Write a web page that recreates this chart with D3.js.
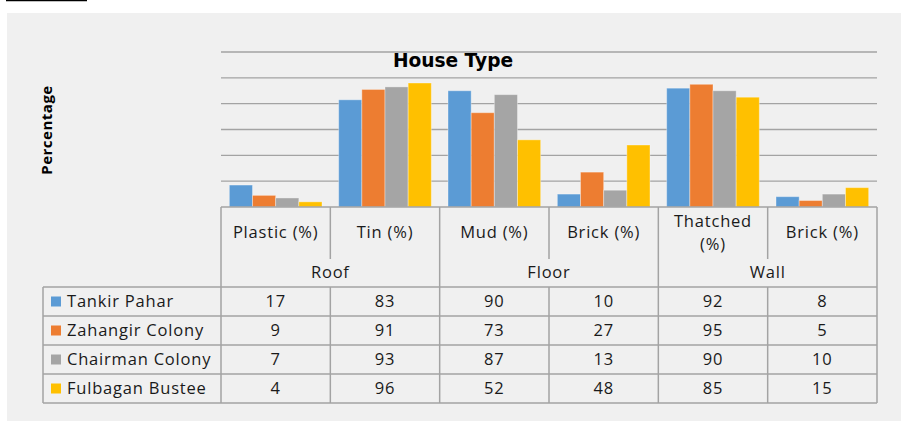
<!DOCTYPE html>
<html lang="en">
<head>
<meta charset="UTF-8">
<title>House Type</title>
<script src="https://d3js.org/d3.v7.min.js"></script>
<style>
    body { margin: 0; background: #fff; }
    svg text { font-family: "Open Sans", sans-serif; fill: #1a1a1a; }
    .chart-title { font-family: "DejaVu Sans", Verdana, sans-serif; font-weight: bold; font-size: 18.6px; text-anchor: middle; fill: #000; }
    .axis-title { font-weight: bold; font-size: 15px; letter-spacing: 0.5px; text-anchor: middle; fill: #000; }
    .cell { font-size: 16.5px; letter-spacing: 0.8px; text-anchor: middle; }
    .legend-label { font-size: 16.5px; letter-spacing: 0.8px; }
</style>
</head>
<body>
<svg width="901" height="421"></svg>
<script>
// data
const categories = ["Plastic (%)", "Tin (%)", "Mud (%)", "Brick (%)", "Thatched (%)", "Brick (%) "];
const groups = [
    { name: "Roof", span: 2 },
    { name: "Floor", span: 2 },
    { name: "Wall", span: 2 }
];
const seriesNames = ["Tankir Pahar", "Zahangir Colony", "Chairman Colony", "Fulbagan Bustee"];
const tankirPahar = [17, 83, 90, 10, 92, 8];
const zahangirColony = [9, 91, 73, 27, 95, 5];
const chairmanColony = [7, 93, 87, 13, 90, 10];
const fulbaganBustee = [4, 96, 52, 48, 85, 15];
const yTicks = [0, 20, 40, 60, 80, 100, 120];

const seriesValues = [tankirPahar, zahangirColony, chairmanColony, fulbaganBustee];
const colors = ["#5b9bd5", "#ed7d31", "#a5a5a5", "#ffc000"];
const lineColor = "#a3a3a3";

const svg = d3.select("svg");

// top-left stub and grey panel
svg.append("line").attr("x1", 6).attr("x2", 87).attr("y1", 0.5).attr("y2", 0.5)
    .attr("stroke", "#000").attr("stroke-width", 1.5);
svg.append("rect").attr("x", 7).attr("y", 13).attr("width", 894).attr("height", 408).attr("fill", "#f0f0f0");

const plotLeft = 221, plotRight = 877, plotTop = 52, plotBottom = 207;
const legendLeft = 43;
const rowTop = 287, rowH = 29;

const x = d3.scaleBand().domain(d3.range(categories.length)).range([plotLeft, plotRight]);
const xs = d3.scaleBand().domain(d3.range(seriesNames.length)).range([0, x.bandwidth()])
    .paddingOuter(0.36).paddingInner(0);
const y = d3.scaleLinear().domain([0, 120]).range([plotBottom, plotTop]);

// gridlines
svg.append("g").selectAll("line").data(yTicks.slice(1)).join("line")
    .attr("x1", plotLeft).attr("x2", plotRight)
    .attr("y1", d => y(d)).attr("y2", d => y(d))
    .attr("stroke", lineColor).attr("stroke-width", 1.3);

svg.append("text").attr("class", "chart-title")
    .attr("x", 453).attr("y", 67).text("House Type");

svg.append("text").attr("class", "axis-title")
    .attr("transform", "translate(52,130) rotate(-90)").text("Percentage");

// bars
seriesValues.forEach((vals, s) => {
    svg.append("g").selectAll("rect").data(vals).join("rect")
        .attr("x", (d, i) => x(i) + xs(s))
        .attr("y", d => y(d))
        .attr("width", xs.bandwidth())
        .attr("height", d => y(0) - y(d))
        .attr("fill", colors[s])
        .attr("stroke", "#ffffff").attr("stroke-opacity", 0.35).attr("stroke-width", 1);
});

// data table
const t = svg.append("g").attr("stroke", lineColor).attr("stroke-width", 1.5).attr("fill", "none");
const lastRow = rowTop + rowH * seriesNames.length;
// baseline
t.append("line").attr("x1", plotLeft).attr("x2", plotRight).attr("y1", plotBottom).attr("y2", plotBottom);
// horizontal row lines
d3.range(seriesNames.length + 1).forEach(r => {
    const yy = rowTop + r * rowH;
    t.append("line").attr("x1", legendLeft).attr("x2", plotRight).attr("y1", yy).attr("y2", yy);
});
// vertical lines
let gi = 0;
const groupEdges = [0];
groups.forEach(g => { gi += g.span; groupEdges.push(gi); });
d3.range(categories.length + 1).forEach(i => {
    const xx = i < categories.length ? x(i) : plotRight;
    const isGroupEdge = groupEdges.includes(i);
    if (isGroupEdge) {
        t.append("line").attr("x1", xx).attr("x2", xx).attr("y1", plotBottom).attr("y2", lastRow);
    } else {
        t.append("line").attr("x1", xx).attr("x2", xx).attr("y1", plotBottom).attr("y2", plotBottom + 52);
        t.append("line").attr("x1", xx).attr("x2", xx).attr("y1", rowTop).attr("y2", lastRow);
    }
});
t.append("line").attr("x1", legendLeft).attr("x2", legendLeft).attr("y1", rowTop).attr("y2", lastRow);

// category labels (wrap long ones)
categories.forEach((c, i) => {
    const cx = x(i) + x.bandwidth() / 2;
    const label = c.trim();
    const lines = label.length > 11 ? label.split(" ") : [label];
    const txt = svg.append("text").attr("class", "cell").attr("x", cx);
    lines.forEach((ln, k) => {
        txt.append("tspan").attr("x", cx)
            .attr("y", 233 + 5 + (k - (lines.length - 1) / 2) * 23)
            .text(ln);
    });
});

// group labels
let start = 0;
groups.forEach(g => {
    const gx = (x(start) + (start + g.span < categories.length ? x(start + g.span) : plotRight)) / 2;
    svg.append("text").attr("class", "cell").attr("x", gx).attr("y", 278).text(g.name);
    start += g.span;
});

// rows: legend keys and values
seriesNames.forEach((name, s) => {
    const cy = rowTop + s * rowH + rowH / 2;
    svg.append("rect").attr("x", 51).attr("y", cy - 5).attr("width", 10).attr("height", 10).attr("fill", colors[s]);
    svg.append("text").attr("class", "legend-label").attr("x", 67).attr("y", cy + 5.5).text(name);
    seriesValues[s].forEach((v, i) => {
        svg.append("text").attr("class", "cell")
            .attr("x", x(i) + x.bandwidth() / 2).attr("y", cy + 5.5).text(v);
    });
});
</script>
</body>
</html>
